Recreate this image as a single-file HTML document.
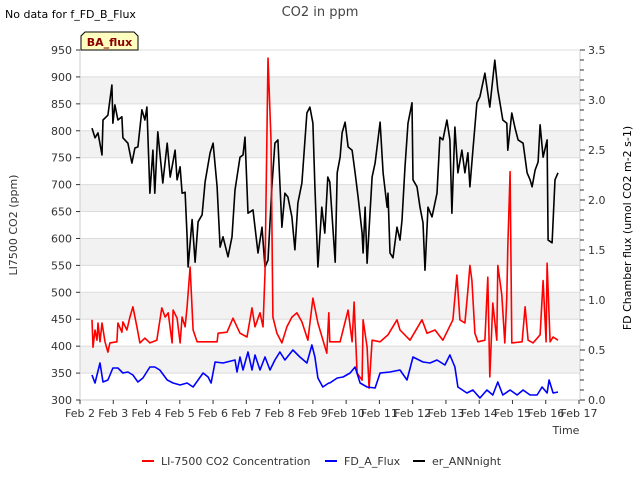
<!DOCTYPE html>
<html><head><meta charset="utf-8"><style>
body{margin:0;background:#fff;font-family:"Liberation Sans","DejaVu Sans",sans-serif;}
svg text{font-family:"DejaVu Sans","Liberation Sans",sans-serif;}
</style></head><body>
<svg id="chart" width="640" height="480" viewBox="0 0 640 480" xmlns="http://www.w3.org/2000/svg"></svg>
<script>
const xTickLabels=["Feb 2","Feb 3","Feb 4","Feb 5","Feb 6","Feb 7","Feb 8","Feb 9","Feb 10","Feb 11","Feb 12","Feb 13","Feb 14","Feb 15","Feb 16","Feb 17"];
const leftTicks=[300,350,400,450,500,550,600,650,700,750,800,850,900,950];
const rightTicks=[0.0,0.5,1.0,1.5,2.0,2.5,3.0,3.5];
const blackT=[0.36,0.45,0.54,0.66,0.69,0.84,0.96,0.99,1.05,1.14,1.26,1.29,1.44,1.56,1.65,1.74,1.86,1.95,2.01,2.10,2.19,2.25,2.34,2.49,2.62,2.71,2.86,2.92,3.01,3.07,3.16,3.22,3.25,3.37,3.46,3.55,3.67,3.76,3.91,4.00,4.12,4.21,4.30,4.45,4.57,4.66,4.81,4.90,4.96,5.05,5.20,5.35,5.47,5.56,5.65,5.77,5.86,5.95,6.07,6.16,6.25,6.37,6.46,6.55,6.67,6.82,6.91,7.00,7.06,7.15,7.27,7.36,7.45,7.51,7.67,7.73,7.82,7.88,7.97,8.06,8.18,8.27,8.36,8.48,8.51,8.57,8.63,8.78,8.87,9.02,9.11,9.23,9.26,9.32,9.41,9.53,9.62,9.68,9.77,9.86,9.98,10.01,10.13,10.22,10.31,10.37,10.46,10.58,10.73,10.82,10.91,11.03,11.12,11.18,11.27,11.36,11.48,11.57,11.66,11.72,11.81,11.93,12.02,12.17,12.32,12.47,12.56,12.71,12.83,12.86,12.98,13.07,13.17,13.32,13.44,13.53,13.59,13.68,13.77,13.83,13.92,14.04,14.07,14.19,14.28,14.37];
const blackV=[805,787,796,755,820,829,885,814,848,820,826,787,777,740,768,770,839,820,844,684,764,684,798,703,777,714,764,709,733,684,686,603,547,635,556,631,644,705,759,777,696,584,603,566,603,690,751,755,788,647,653,573,621,547,560,696,777,783,621,684,677,640,579,666,703,833,844,814,696,547,658,610,714,705,556,722,751,796,816,770,764,722,677,610,573,658,554,714,740,816,722,658,684,573,564,621,597,634,733,814,852,709,696,658,629,541,658,640,684,788,783,820,783,647,807,722,764,722,759,696,764,852,863,907,844,931,876,820,814,764,833,807,783,777,722,709,696,727,742,811,751,783,597,592,709,722];
const redT=[0.36,0.39,0.45,0.51,0.54,0.60,0.66,0.75,0.84,0.90,1.11,1.14,1.26,1.29,1.41,1.50,1.59,1.71,1.80,1.95,2.10,2.31,2.46,2.56,2.65,2.77,2.80,2.92,3.01,3.07,3.16,3.22,3.31,3.40,3.52,3.82,4.12,4.15,4.42,4.60,4.72,4.81,5.02,5.17,5.26,5.41,5.50,5.56,5.65,5.74,5.80,5.92,6.07,6.22,6.37,6.52,6.67,6.85,7.00,7.15,7.42,7.48,7.51,7.82,7.97,8.06,8.18,8.24,8.33,8.48,8.51,8.63,8.69,8.78,9.02,9.26,9.53,9.62,9.92,10.28,10.43,10.67,10.91,11.21,11.33,11.42,11.57,11.66,11.72,11.78,11.87,11.96,12.17,12.26,12.32,12.41,12.53,12.56,12.68,12.77,12.83,12.86,12.93,12.98,13.29,13.38,13.47,13.62,13.83,13.92,14.01,14.04,14.13,14.22,14.37];
const redV=[449,398,430,411,443,408,443,408,389,406,408,443,426,445,430,454,473,436,406,415,406,411,471,454,462,406,467,452,406,454,436,473,547,430,408,408,408,424,426,452,436,424,417,471,436,462,436,536,935,783,454,424,406,436,454,462,445,411,489,443,387,462,408,408,445,467,408,482,350,337,449,398,322,411,408,421,449,430,411,449,424,430,411,449,532,449,443,504,550,522,424,408,411,528,343,480,411,550,495,406,491,584,724,406,408,473,411,406,421,522,408,554,408,417,411];
const blueT=[0.36,0.45,0.60,0.69,0.84,0.99,1.14,1.29,1.44,1.59,1.74,1.89,2.10,2.25,2.40,2.62,2.80,3.01,3.22,3.40,3.55,3.70,3.85,3.94,4.06,4.30,4.66,4.72,4.81,4.90,5.05,5.17,5.26,5.41,5.56,5.71,5.86,6.01,6.16,6.40,6.61,6.82,6.97,7.06,7.15,7.30,7.48,7.51,7.73,7.91,8.12,8.27,8.42,8.63,8.87,9.02,9.32,9.62,9.83,10.01,10.31,10.52,10.73,10.97,11.12,11.27,11.36,11.63,11.81,12.02,12.23,12.41,12.56,12.71,12.93,13.14,13.32,13.53,13.74,13.89,14.04,14.10,14.22,14.37];
const blueV=[0.25,0.17,0.37,0.18,0.20,0.32,0.32,0.27,0.28,0.25,0.18,0.22,0.33,0.33,0.30,0.20,0.17,0.15,0.17,0.13,0.20,0.27,0.23,0.17,0.38,0.37,0.40,0.28,0.43,0.30,0.48,0.30,0.45,0.30,0.43,0.30,0.40,0.48,0.40,0.50,0.43,0.37,0.55,0.43,0.22,0.13,0.17,0.17,0.22,0.23,0.27,0.33,0.17,0.13,0.12,0.27,0.28,0.30,0.20,0.43,0.38,0.37,0.40,0.35,0.45,0.33,0.13,0.07,0.10,0.02,0.10,0.05,0.18,0.05,0.10,0.05,0.10,0.05,0.05,0.13,0.07,0.20,0.07,0.08];

const L=80,R=580,T=50,B=400;
const xs=t=>L+t*(R-1-L)/15;
const yl=v=>B-(v-300)*(B-T)/650;
const yr=v=>B-v*(B-T)/3.5;
const svg=document.getElementById('chart');
const NS='http://www.w3.org/2000/svg';
function mk(tag,attrs,parent){const e=document.createElementNS(NS,tag);for(const k in attrs)e.setAttribute(k,attrs[k]);(parent||svg).appendChild(e);return e;}
function txt(s,attrs,parent){const e=mk('text',attrs,parent);e.textContent=s;return e;}

// bands
for(let v=350;v<950;v+=100){
 const b=mk('rect',{x:L,y:yl(v+50),width:R-L,height:yl(v)-yl(v+50),fill:'#f2f2f2'});
 
 
}
for(let v=300;v<=950;v+=50){
 const g=mk('line',{x1:L,x2:R,y1:yl(v),y2:yl(v),stroke:'#dcdcdc','stroke-width':1});
 
 
}
// axes frame
mk('line',{x1:L,x2:L,y1:T,y2:B,stroke:'#ccc'});
mk('line',{x1:R,x2:R,y1:T,y2:B,stroke:'#ccc'});
mk('line',{x1:L,x2:R,y1:B,y2:B,stroke:'#ccc'});

// left ticks
const lg=mk('g',{'font-size':11,fill:'#333','text-anchor':'end'});


leftTicks.forEach(v=>{
 mk('line',{x1:L-4,x2:L,y1:yl(v),y2:yl(v),stroke:'#333'},lg);
 const t=txt(String(v),{x:L-8,y:yl(v)+4},lg);
 
 
});
// right ticks
const rg=mk('g',{'font-size':11,fill:'#333'});


for(let i=0;i<=35;i++){const v=i/10;mk('line',{x1:R,x2:R+(i%5===0?5:4),y1:yr(v),y2:yr(v),stroke:'#333'},rg);}
rightTicks.forEach(v=>{
 const t=txt(v.toFixed(1),{x:R+8,y:yr(v)+4},rg);
 
 
});
// x ticks
const xg=mk('g',{'font-size':11,fill:'#333','text-anchor':'middle'});


xTickLabels.forEach((s,i)=>{
 mk('line',{x1:xs(i),x2:xs(i),y1:B,y2:B+4,stroke:'#333'},xg);
 const t=txt(s,{x:xs(i),y:B+17},xg);
 
 
});

function line(T_,V_,yf,color,name){
 const d=T_.map((t,i)=>(i?'L':'M')+xs(t).toFixed(1)+','+yf(V_[i]).toFixed(1)).join('');
 const p=mk('path',{d:d,fill:'none',stroke:color,'stroke-width':1.6,'stroke-linejoin':'round'});
 
 
}
line(blackT,blackV,yl,'#000','er-annnight-line');
line(redT,redV,yl,'#ff0000','li7500-co2-line');
line(blueT,blueV,yr,'#0000ff','fd-a-flux-line');

// titles
let e;
e=txt('CO2 in ppm',{x:320,y:16,'font-size':13,fill:'#444','text-anchor':'middle'});
e=txt('No data for f_FD_B_Flux',{x:5,y:18,'font-size':11,fill:'#000'});
e=txt('LI7500 CO2 (ppm)',{x:0,y:0,'font-size':11,fill:'#333','text-anchor':'middle',transform:'translate(17,225) rotate(-90)'});
e=txt('FD Chamber flux (umol CO2 m-2 s-1)',{x:0,y:0,'font-size':11,fill:'#000','text-anchor':'middle',transform:'translate(631,228) rotate(-90)'});
e=txt('Time',{x:566,y:434,'font-size':11,fill:'#333','text-anchor':'middle'});
// BA_flux badge
const bg=mk('g',{});
mk('path',{d:'M81,50 L81,36 L85,32 L134,32 L138,36 L138,50 Z',fill:'#ffffc0',stroke:'#000','stroke-width':1},bg);
txt('BA_flux',{x:109.5,y:46,'font-size':11,'font-weight':'bold',fill:'#8b0000','text-anchor':'middle'},bg);
// legend
const leg=[['#ff0000','LI-7500 CO2 Concentration',142,'legend-li7500'],['#0000ff','FD_A_Flux',325,'legend-fd-a-flux'],['#000','er_ANNnight',413,'legend-er-annnight']];
leg.forEach(a=>{
 const g=mk('g',{});
 
 
 mk('line',{x1:a[2],x2:a[2]+12,y1:461,y2:461,stroke:a[0],'stroke-width':2},g);
 txt(a[1],{x:a[2]+19,y:465,'font-size':11,fill:'#333'},g);
});
</script>
</body></html>
